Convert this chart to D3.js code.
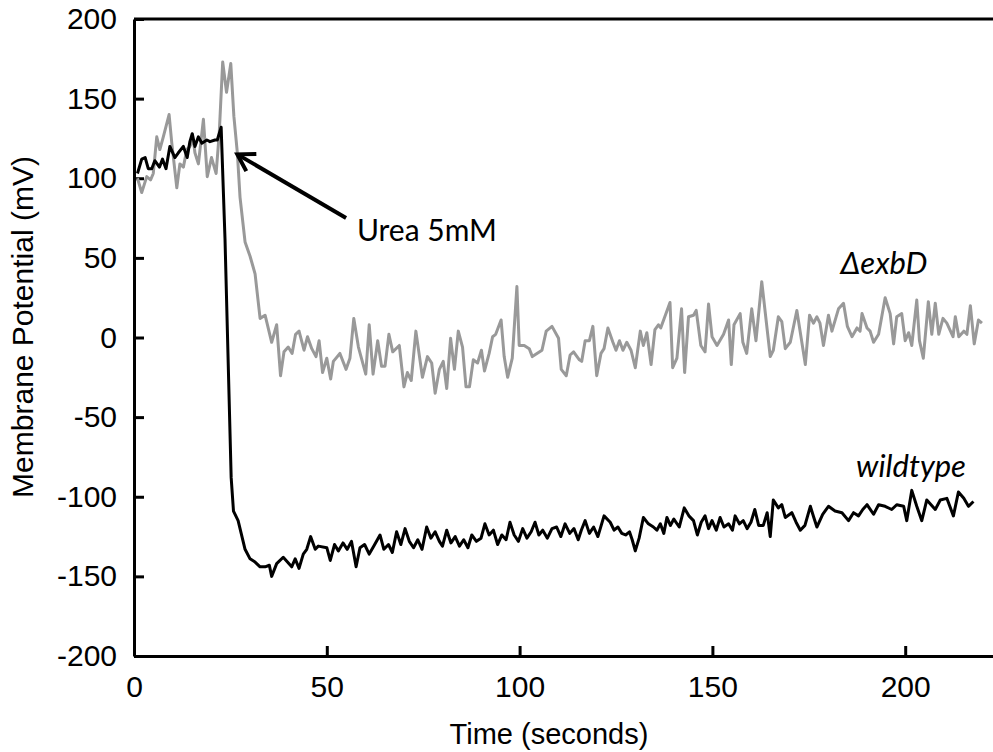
<!DOCTYPE html>
<html>
<head>
<meta charset="utf-8">
<script src="https://cdn.jsdelivr.net/npm/d3@7"></script>
<style>
  body { margin: 0; background: #fff; }
  svg { display: block; }
  .axis text { font-family: "Liberation Sans", Arial, sans-serif; font-size: 30px; fill: #000; }
  .axis path, .axis line { stroke: #000; stroke-width: 3px; }
</style>
</head>
<body>
<svg id="chart" width="993" height="752"></svg>
<script>
// Tick labels.
const xTicks = [0, 50, 100, 150, 200];
const yTicks = [-200, -150, -100, -50, 0, 50, 100, 150, 200];

// Wildtype trace (black): time in seconds, membrane potential in mV.
const wildtypeTime = [0.9, 2, 2.9, 3.7, 4.6, 5.4, 6.6, 7.4, 8.3, 9.3, 10.6, 11.5, 12.8, 13.8, 14.5, 15.1, 15.8, 16.7, 17.6, 18.9,
  19.7, 21, 21.6, 22.6, 23.6, 25.2, 25.8, 27, 28.8, 30.1, 31.4, 32.7, 34, 35.1, 35.7, 37, 38.7, 40.9, 41.8, 42.8,
  43.9, 44.8, 45.8, 47, 47.8, 50, 50.9, 52, 53, 54.2, 55.3, 56.4, 57.6, 58.6, 59.8, 61, 62.2, 63.8, 64.8, 66,
  67, 68.1, 69.2, 70.3, 71.4, 72.5, 73.6, 74.7, 75.9, 77, 78.1, 79.2, 80, 81.1, 82.2, 83.3, 84.4, 85.5, 86.6, 87.6,
  88.8, 90, 91, 92.1, 93.2, 94.3, 95.4, 96.5, 97.5, 98.6, 99.7, 100.8, 101.9, 103, 104, 105, 106, 107.2, 108.4, 109.6,
  110.7, 111.8, 113, 114.1, 115.2, 116, 117, 118.1, 119.2, 120.3, 121.9, 123.5, 124.5, 125.5, 126.5, 127.5, 128.5, 129.2, 130, 131,
  132.1, 133.4, 134.7, 135.6, 136.5, 137.4, 138.2, 139.1, 140, 141.4, 142.7, 143.9, 145.1, 146.1, 147.1, 148.1, 149, 149.9, 151, 152,
  153, 154.2, 155.2, 155.9, 157, 158, 159, 160, 161, 162, 163.2, 164.2, 165, 165.8, 167.1, 168, 168.9, 170.6, 171.7, 172.8,
  174, 175.4, 176.3, 177.1, 178.6, 180.1, 181.8, 183.6, 185.3, 186.6, 187.9, 189, 190.1, 191.8, 193.1, 194.8, 196.5, 197.8, 199.6, 200.4,
  201.7, 203, 204.3, 205.6, 207.8, 209.1, 210.8, 212.5, 213.8, 215.2, 216.4, 217.7];
const wildtypeValue = [103, 112, 113, 106, 106, 111, 107, 112, 106, 120, 113, 116, 120, 113, 123, 128, 120, 126, 122, 124,
  123, 124, 124, 132, 62, -88, -109, -115, -133, -139, -141, -144, -144, -143, -150, -142, -138, -144, -139, -145,
  -136, -133, -125, -133, -131, -132, -140, -130, -134, -129, -133, -128, -144, -132, -130, -136, -131, -124, -133, -130,
  -135, -122, -130, -120, -128, -132, -127, -133, -119, -126, -122, -128, -131, -121, -129, -125, -131, -127, -132, -124,
  -128, -126, -117, -124, -121, -130, -124, -127, -116, -124, -128, -120, -126, -122, -116, -124, -121, -126, -120, -119,
  -125, -117, -123, -120, -127, -121, -115, -123, -119, -125, -112, -116, -121, -119, -123, -124, -122, -127, -134, -126,
  -113, -117, -119, -121, -117, -123, -113, -118, -114, -119, -107, -112, -115, -124, -116, -112, -120, -115, -121, -113,
  -119, -117, -121, -112, -117, -115, -120, -116, -108, -118, -118, -110, -125, -102, -107, -105, -113, -110, -116, -121,
  -118, -106, -113, -119, -111, -106, -109, -110, -115, -110, -112, -108, -105, -111, -105, -106, -108, -105, -106, -115,
  -96, -106, -115, -102, -108, -102, -101, -112, -97, -101, -106, -103];

// ΔexbD trace (grey).
const exbdTime = [0.9, 2, 3.3, 4.3, 5, 5.9, 6.7, 7.6, 9.1, 9.8, 11.1, 11.9, 12.8, 13.7, 14.5, 15.4, 15.8, 16.7, 18, 19,
  20.1, 21.3, 22.1, 23, 24, 25.1, 25.9, 26.8, 27.5, 28.8, 30.1, 31.4, 32.7, 34, 35.7, 37, 38, 38.9, 40, 41,
  41.9, 42.8, 44.1, 45, 46.1, 47.2, 48, 48.9, 50, 51, 51.7, 53.4, 55, 56, 57, 58.2, 60.1, 61, 62, 63.2,
  64.2, 65.1, 66.1, 67.1, 68.8, 70, 70.9, 71.9, 73.1, 74.8, 76.1, 77.2, 78.1, 79.2, 80.2, 81.1, 82.1, 83.1, 84.1, 85.2,
  86.1, 87, 88, 89.1, 90.1, 90.9, 92.1, 93, 93.8, 95.2, 96, 96.9, 98.1, 99.3, 99.9, 101.2, 102.5, 103.3, 105.8, 106.9,
  108.4, 110.1, 110.8, 112.1, 113.1, 114, 115.5, 116.1, 117, 118.1, 119, 120, 121.1, 121.9, 122.9, 124.2, 125, 125.9, 126.8, 127.8,
  128.9, 130, 131.3, 132.1, 133, 134.1, 135.1, 136, 136.6, 139, 139.7, 140.8, 142, 142.8, 143.8, 145.1, 145.8, 147, 148.1, 149,
  149.9, 151.2, 152.9, 154.2, 154.9, 155.6, 157.2, 157.9, 158.9, 160.2, 161.3, 162.8, 165, 165.8, 167.1, 168, 168.9, 170.2, 171.9, 174.1,
  175.2, 176.2, 177.1, 177.9, 178.8, 180.1, 181, 182.7, 184, 185, 186.2, 187.5, 188.3, 188.8, 190.1, 190.9, 191.8, 193.1, 194.8, 196.1,
  197, 197.8, 199.1, 200, 200.9, 201.7, 203, 203.7, 204.7, 206, 206.9, 207.8, 208.7, 209.8, 210.8, 212.4, 213, 213.9, 215.2, 216,
  216.9, 217.9, 219, 219.9];
const exbdValue = [100, 91, 101, 99, 103, 126, 118, 126, 140, 122, 94, 109, 107, 118, 120, 124, 116, 109, 137, 101,
  113, 103, 128, 173, 154, 172, 139, 116, 88, 60, 51, 40, 12, 14, -3, 8, -24, -9, -6, -10,
  2, 4, -8, 0.5, -7, -12, -2, -22, -13, -26, -15, -10, -20, -13, 12, -6, -23, 8, -23, -2,
  -18, -18, 2, -9, -5, -31, -22, -27, 4, -25, -12, -16, -35, -20, -15, -32, -0.5, -20, 4, -6,
  -31, -31, -14, -16, -8, -21, -10, 0.5, 2, 11, -12, -25, -13, 32, -5, -5, -7, -12, -8, 4,
  7, -0.5, -20, -24, -11, -9, -14, -15, -2, -2, 7, -24, -10, -7, 6, -3, -8, -2, -8, -3,
  -8, -19, 4, -5, 3, -17, 5, 8, 6, 22, -19, -13, 18, -22, 13, 14, 17, -5, -9, 21,
  0.5, -5, 2, 11, -17, 8, 15, -3, -10, 18, -2, 35, -12, -8, 13, 10, -7, -3, 17, -17,
  14, 9, 13, 9, -5, 14, 4, 18, 21.5, 7, 0.5, 6, 4, 15, 6, 4, -3, 2, 25, 15,
  -4, 13, 15, -2, 3, -5, 23.5, -2, -13, 22.5, 2, 21.5, 2, 12, 9, 0.5, 13, 0.5, 4, 2,
  20, -4, 11, 9];

// Text labels and the urea arrow, in data units.
const seriesLabels = [
  {text: '\u0394exbD', t: 194.5, v: 47},
  {text: 'wildtype', t: 201.5, v: -81}
];
const ureaText = 'Urea 5mM';
const ureaArrow = {fromT: 55, fromV: 75, toT: 26.8, toV: 115};

const svg = d3.select('#chart');
const x = d3.scaleLinear().domain([0, 250]).range([134, 1098]);
const y = d3.scaleLinear().domain([-200, 200]).range([656, 19]);

// Top border of the plot area (right side runs off the picture).
svg.append('line')
  .attr('x1', x(0)).attr('x2', x(250))
  .attr('y1', y(200)).attr('y2', y(200))
  .attr('stroke', '#000').attr('stroke-width', 3);

svg.append('g').attr('class', 'axis')
  .attr('transform', `translate(0, ${y(-200)})`)
  .call(d3.axisBottom(x).tickValues(xTicks).tickFormat(d => String(d))
    .tickSizeInner(-10).tickSizeOuter(0).tickPadding(20));

svg.append('g').attr('class', 'axis')
  .attr('transform', `translate(${x(0)}, 0)`)
  .call(d3.axisLeft(y).tickValues(yTicks).tickFormat(d => String(d))
    .tickSizeInner(-10).tickSizeOuter(0).tickPadding(17));

const line = d3.line().x(d => x(d[0])).y(d => y(d[1]));

svg.append('path')
  .datum(d3.zip(exbdTime, exbdValue))
  .attr('d', line)
  .attr('fill', 'none')
  .attr('stroke', '#999999')
  .attr('stroke-width', 3)
  .attr('stroke-linejoin', 'round');

svg.append('path')
  .datum(d3.zip(wildtypeTime, wildtypeValue))
  .attr('d', line)
  .attr('fill', 'none')
  .attr('stroke', '#000')
  .attr('stroke-width', 3)
  .attr('stroke-linejoin', 'round');

// Arrow with an open head.
const x1 = x(ureaArrow.fromT), y1 = y(ureaArrow.fromV);
const x2 = x(ureaArrow.toT), y2 = y(ureaArrow.toV);
const ang = Math.atan2(y1 - y2, x1 - x2);
const wing = 19, spread = 0.55;
svg.append('line')
  .attr('x1', x1).attr('y1', y1).attr('x2', x2 + 2 * Math.cos(ang)).attr('y2', y2 + 2 * Math.sin(ang))
  .attr('stroke', '#000').attr('stroke-width', 4);
svg.append('path')
  .attr('d', `M${x2 + wing * Math.cos(ang - spread)},${y2 + wing * Math.sin(ang - spread)}` +
             `L${x2},${y2}` +
             `L${x2 + wing * Math.cos(ang + spread)},${y2 + wing * Math.sin(ang + spread)}`)
  .attr('fill', 'none')
  .attr('stroke', '#000')
  .attr('stroke-width', 4)
  .attr('stroke-linejoin', 'miter');

svg.append('text')
  .attr('x', x(57.8)).attr('y', y(67.5))
  .attr('dy', '0.35em')
  .style('font-family', 'Lato, "Open Sans", sans-serif')
  .style('font-size', '30px')
  .text(ureaText);

svg.selectAll('.series-label')
  .data(seriesLabels)
  .join('text')
  .attr('class', 'series-label')
  .attr('x', d => x(d.t)).attr('y', d => y(d.v))
  .attr('dy', '0.35em')
  .attr('text-anchor', 'middle')
  .style('font-family', 'Lato, "Open Sans", sans-serif')
  .style('font-style', 'italic')
  .style('font-size', '31px')
  .text(d => d.text);

// Axis titles.
svg.append('text')
  .attr('x', 549).attr('y', 744)
  .attr('text-anchor', 'middle')
  .style('font-family', '"Liberation Sans", Arial, sans-serif')
  .style('font-size', '29px')
  .text('Time (seconds)');

svg.append('text')
  .attr('transform', 'translate(33, 327) rotate(-90)')
  .attr('text-anchor', 'middle')
  .style('font-family', '"Liberation Sans", Arial, sans-serif')
  .style('font-size', '30px')
  .text('Membrane Potential (mV)');
</script>
</body>
</html>
